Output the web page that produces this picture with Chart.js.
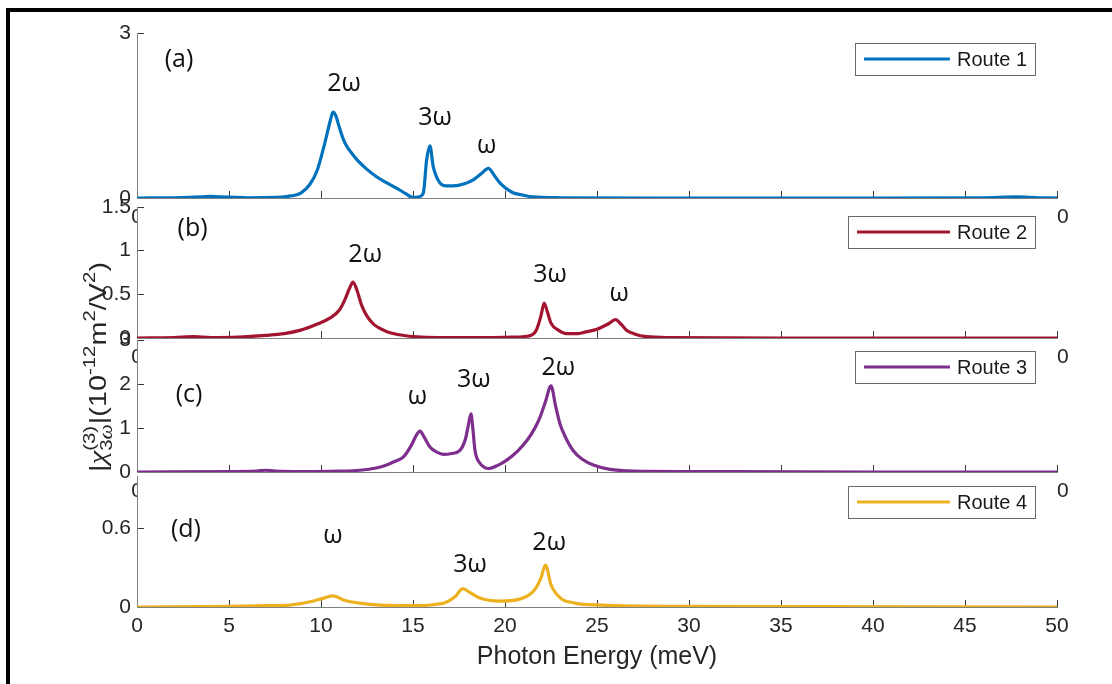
<!DOCTYPE html>
<html>
<head>
<meta charset="utf-8">
<script src="https://cdn.jsdelivr.net/npm/chart.js@4.4.0/dist/chart.umd.min.js"></script>
<style>
  html, body { margin: 0; padding: 0; background: #fff; }
  #wrap { position: relative; width: 1112px; height: 684px; overflow: hidden; background: #fff; }
  #wrap canvas { position: absolute; left: 0; top: 0; }
  #frame { position: absolute; left: 6px; top: 8px; width: 1200px; height: 800px;
           border-left: 4px solid #000; border-top: 4px solid #000; }
</style>
</head>
<body>
<div id="wrap">
  <div id="frame"></div>
  <canvas id="panelA" width="1112" height="684"></canvas>
  <canvas id="panelB" width="1112" height="684"></canvas>
  <canvas id="panelC" width="1112" height="684"></canvas>
  <canvas id="panelD" width="1112" height="684"></canvas>
</div>
<script>
// ---- data ----
const xTicks = [0, 5, 10, 15, 20, 25, 30, 35, 40, 45, 50];

const route1Energy = [0, 2, 3.5, 4.0, 4.5, 6, 7.5, 8.2, 8.9, 9.4, 9.8, 10.2, 10.5, 10.65, 10.8, 11.0, 11.2, 11.4, 11.7, 12.0, 12.5, 13.0, 13.6, 14.1, 14.6, 15.0, 15.3, 15.56, 15.74, 15.92, 16.1, 16.47, 16.8, 17.2, 17.8, 18.27, 18.7, 19.1, 19.4, 19.73, 20.4, 21.0, 21.5, 23, 30, 40, 46, 47.8, 49, 50];
const route1Values = [0, 0.005, 0.02, 0.03, 0.02, 0.005, 0.01, 0.03, 0.09, 0.25, 0.51, 0.99, 1.4, 1.56, 1.5, 1.28, 1.08, 0.94, 0.8, 0.68, 0.52, 0.39, 0.27, 0.18, 0.08, 0.01, 0.02, 0.09, 0.69, 0.95, 0.57, 0.27, 0.22, 0.22, 0.26, 0.33, 0.44, 0.54, 0.42, 0.27, 0.10, 0.05, 0.02, 0.005, 0, 0, 0.005, 0.02, 0.005, 0];

const route2Energy = [0, 2, 3.1, 4, 5.5, 7, 8, 8.9, 9.8, 10.5, 11.0, 11.3, 11.55, 11.74, 11.95, 12.2, 12.5, 12.9, 13.4, 13.75, 14.8, 17, 19, 20.5, 21.2, 21.7, 21.95, 22.13, 22.3, 22.5, 22.9, 23.35, 24.0, 24.4, 25.0, 25.6, 26.0, 26.3, 26.6, 27.0, 27.7, 29, 35, 50];
const route2Values = [0, 0.005, 0.015, 0.005, 0.01, 0.03, 0.05, 0.09, 0.16, 0.23, 0.32, 0.44, 0.57, 0.64, 0.55, 0.38, 0.25, 0.15, 0.09, 0.06, 0.02, 0.005, 0.005, 0.01, 0.02, 0.09, 0.25, 0.40, 0.30, 0.17, 0.09, 0.05, 0.05, 0.07, 0.10, 0.16, 0.21, 0.16, 0.09, 0.05, 0.015, 0.005, 0, 0];

const route3Energy = [0, 5, 6.5, 7.0, 7.5, 9, 11, 12.1, 13, 13.57, 14.0, 14.47, 14.9, 15.2, 15.38, 15.6, 15.92, 16.3, 16.65, 17.1, 17.55, 17.85, 18.0, 18.15, 18.25, 18.37, 18.6, 18.9, 19.1, 19.6, 20.1, 20.7, 21.2, 21.6, 21.9, 22.2, 22.5, 22.75, 22.99, 23.3, 23.7, 24.2, 24.8, 25.7, 27, 30, 40, 50];
const route3Values = [0, 0.01, 0.02, 0.04, 0.02, 0.01, 0.02, 0.04, 0.09, 0.16, 0.24, 0.34, 0.6, 0.85, 0.93, 0.8, 0.57, 0.45, 0.40, 0.42, 0.49, 0.75, 1.05, 1.32, 1.0, 0.49, 0.22, 0.10, 0.08, 0.15, 0.27, 0.48, 0.72, 0.98, 1.24, 1.6, 1.96, 1.5, 1.09, 0.78, 0.49, 0.29, 0.16, 0.06, 0.02, 0.01, 0, 0];

const route4Energy = [0, 5, 7, 8.3, 9.4, 10.2, 10.65, 11.3, 12.1, 13.2, 15.4, 16.2, 16.7, 17.3, 17.7, 18.1, 18.6, 19.7, 20.8, 21.6, 21.95, 22.2, 22.5, 23, 23.8, 25.2, 30, 50];
const route4Values = [0, 0.005, 0.01, 0.015, 0.04, 0.07, 0.085, 0.05, 0.03, 0.015, 0.01, 0.02, 0.03, 0.08, 0.14, 0.11, 0.07, 0.045, 0.06, 0.13, 0.22, 0.32, 0.17, 0.07, 0.03, 0.015, 0.005, 0];

const routeLabels = ['Route 1', 'Route 2', 'Route 3', 'Route 4'];
const panelTags = ['(a)', '(b)', '(c)', '(d)'];
const yTicksA = [0, 3];
const yTicksB = [0, 0.5, 1, 1.5];
const yTicksC = [0, 1, 2, 3];
const yTicksD = [0, 0.6];

// peak labels: text, energy, value
const peaksA = [['2ω', 11.25, 2.07], ['3ω', 16.2, 1.45], ['ω', 19.0, 0.95]];
const peaksB = [['2ω', 12.4, 0.95], ['3ω', 22.45, 0.72], ['ω', 26.2, 0.50]];
const peaksC = [['ω', 15.24, 1.71], ['3ω', 18.3, 2.09], ['2ω', 22.9, 2.36]];
const peaksD = [['ω', 10.65, 0.54], ['3ω', 18.1, 0.32], ['2ω', 22.4, 0.49]];

// ---- styling ----
const W = 1112, H = 684;
const tickFont = { family: '"Liberation Sans", Arial, sans-serif', size: 21 };
const tickColor = '#262626';
const noteFont = '25px "Open Sans", sans-serif';

const panelDeco = {
  id: 'panelDeco',
  beforeDraw(chart) {
    // white axes background hides the x labels of the panel underneath
    const a = chart.chartArea, ctx = chart.ctx;
    ctx.save();
    ctx.fillStyle = '#fff';
    ctx.fillRect(a.left, a.top, a.right - a.left, a.bottom - a.top);
    ctx.restore();
  },
  afterDatasetsDraw(chart, args, opts) {
    const ctx = chart.ctx, a = chart.chartArea;
    const xs = chart.scales.x, ys = chart.scales.y;
    ctx.save();
    ctx.font = noteFont;
    ctx.fillStyle = '#111';
    ctx.textAlign = 'center';
    ctx.textBaseline = 'middle';
    ctx.fillText(opts.tag[0], xs.getPixelForValue(opts.tag[1]), ys.getPixelForValue(opts.tag[2]));
    opts.peaks.forEach(p => ctx.fillText(p[0], xs.getPixelForValue(p[1]), ys.getPixelForValue(p[2])));

    // legend box
    const ds = chart.data.datasets[0];
    const right = a.right - 22, left = right - opts.legendW;
    const top = a.top + opts.legendDy, h = 32;
    ctx.fillStyle = '#fff';
    ctx.fillRect(left, top, right - left, h);
    ctx.strokeStyle = '#6a6a6a';
    ctx.lineWidth = 1;
    ctx.strokeRect(Math.round(left) + 0.5, Math.round(top) + 0.5, right - left, h);
    ctx.font = '20px "Liberation Sans", Arial, sans-serif';
    ctx.textAlign = 'left';
    const tw = ctx.measureText(ds.label).width;
    const tx = right - 8 - tw;
    ctx.strokeStyle = ds.borderColor;
    ctx.lineWidth = 3;
    ctx.beginPath();
    ctx.moveTo(left + 9, top + h / 2);
    ctx.lineTo(tx - 7, top + h / 2);
    ctx.stroke();
    ctx.fillStyle = '#1a1a1a';
    ctx.fillText(ds.label, tx, top + h / 2 + 1);
    ctx.restore();
  }
};

// y title with super/subscripts, rotated
const yTitleParts = [
  { main: [['|', 'n'], ['χ', 'i']] },
  { sup: [['(3)', 's']], sub: [['3', 's'], ['ω', 'si']] },
  { main: [['|(10', 'n']] },
  { sup: [['-12', 's']] },
  { main: [['m', 'n']] },
  { sup: [['2', 's']] },
  { main: [['/V', 'n']] },
  { sup: [['2', 's']] },
  { main: [[')', 'n']] }
];

const yTitle = {
  id: 'yTitle',
  afterDraw(chart) {
    const ctx = chart.ctx;
    const F = {
      n: '24px "Liberation Sans", Arial, sans-serif',
      i: 'italic 26px "Liberation Serif", serif',
      s: '17px "Liberation Sans", Arial, sans-serif',
      si: 'italic 18px "Liberation Serif", serif'
    };
    const runW = run => run.reduce((acc, r) => { ctx.font = F[r[1]]; return acc + ctx.measureText(r[0]).width; }, 0);
    const partW = p => p.main ? runW(p.main) : Math.max(p.sup ? runW(p.sup) : 0, p.sub ? runW(p.sub) : 0);
    const total = yTitleParts.reduce((acc, p) => acc + partW(p), 0);
    const drawRun = (run, x, y) => {
      run.forEach(r => { ctx.font = F[r[1]]; ctx.fillText(r[0], x, y); x += ctx.measureText(r[0]).width; });
    };
    ctx.save();
    ctx.translate(106, 367);
    ctx.rotate(-Math.PI / 2);
    ctx.scale(210 / total, 1);
    ctx.fillStyle = '#262626';
    ctx.textBaseline = 'alphabetic';
    ctx.textAlign = 'left';
    let x = -total / 2;
    yTitleParts.forEach(p => {
      if (p.main) drawRun(p.main, x, 0);
      if (p.sup) drawRun(p.sup, x, -11);
      if (p.sub) drawRun(p.sub, x, 6);
      x += partW(p);
    });
    ctx.restore();
  }
};

function panel(canvasId, energy, values, color, label, yMax, yTicks, box, deco, extra) {
  const lastPanel = !!box.title;
  return new Chart(document.getElementById(canvasId), {
    type: 'line',
    data: {
      datasets: [{
        label: label,
        data: energy.map((e, i) => ({ x: e, y: values[i] })),
        borderColor: color,
        borderWidth: 3.2,
        pointRadius: 0,
        fill: false,
        cubicInterpolationMode: 'monotone'
      }]
    },
    options: {
      responsive: false,
      animation: false,
      layout: { padding: { left: 0, right: W - 1057, top: box.top, bottom: H - box.bottom - box.axisH } },
      plugins: {
        legend: { display: false },
        tooltip: { enabled: false },
        panelDeco: deco
      },
      scales: {
        x: {
          type: 'linear', min: 0, max: 50,
          afterBuildTicks: s => { s.ticks = xTicks.map(v => ({ value: v })); },
          afterFit: s => { s.height = box.axisH; },
          grid: { drawOnChartArea: false, drawTicks: true, tickLength: -7, tickColor: '#3a3a3a' },
          border: { color: '#808080', width: 1 },
          ticks: { font: tickFont, color: tickColor, padding: 14, maxRotation: 0, autoSkip: false },
          title: {
            display: lastPanel, text: 'Photon Energy (meV)', color: tickColor,
            font: { family: '"Liberation Sans", Arial, sans-serif', size: 25 },
            padding: { top: 0, bottom: 5 }
          }
        },
        y: {
          type: 'linear', min: 0, max: yMax,
          afterBuildTicks: s => { s.ticks = yTicks.map(v => ({ value: v })); },
          afterFit: s => { s.width = 137; },
          grid: { drawOnChartArea: false, drawTicks: true, tickLength: -7, tickColor: '#3a3a3a' },
          border: { color: '#808080', width: 1 },
          ticks: { font: tickFont, color: tickColor, padding: 13, callback: v => String(v) }
        }
      }
    },
    plugins: [panelDeco].concat(extra || [])
  });
}

panel('panelA', route1Energy, route1Values, '#0072BD', routeLabels[0], 3, yTicksA,
  { top: 33, bottom: 198, axisH: 40 },
  { tag: [panelTags[0], 2.28, 2.51], peaks: peaksA, legendW: 180, legendDy: 10 });
panel('panelB', route2Energy, route2Values, '#A2142F', routeLabels[1], 1.5, yTicksB,
  { top: 207, bottom: 338, axisH: 40 },
  { tag: [panelTags[1], 3.02, 1.25], peaks: peaksB, legendW: 187, legendDy: 9 });
panel('panelC', route3Energy, route3Values, '#7E2F8E', routeLabels[2], 3, yTicksC,
  { top: 340, bottom: 472, axisH: 40 },
  { tag: [panelTags[2], 2.83, 1.75], peaks: peaksC, legendW: 180, legendDy: 11 });
panel('panelD', route4Energy, route4Values, '#EDB120', routeLabels[3], 1, yTicksD,
  { top: 476, bottom: 607, axisH: 70, title: true },
  { tag: [panelTags[3], 2.66, 0.585], peaks: peaksD, legendW: 187, legendDy: 10 },
  [yTitle]);
</script>
</body>
</html>
